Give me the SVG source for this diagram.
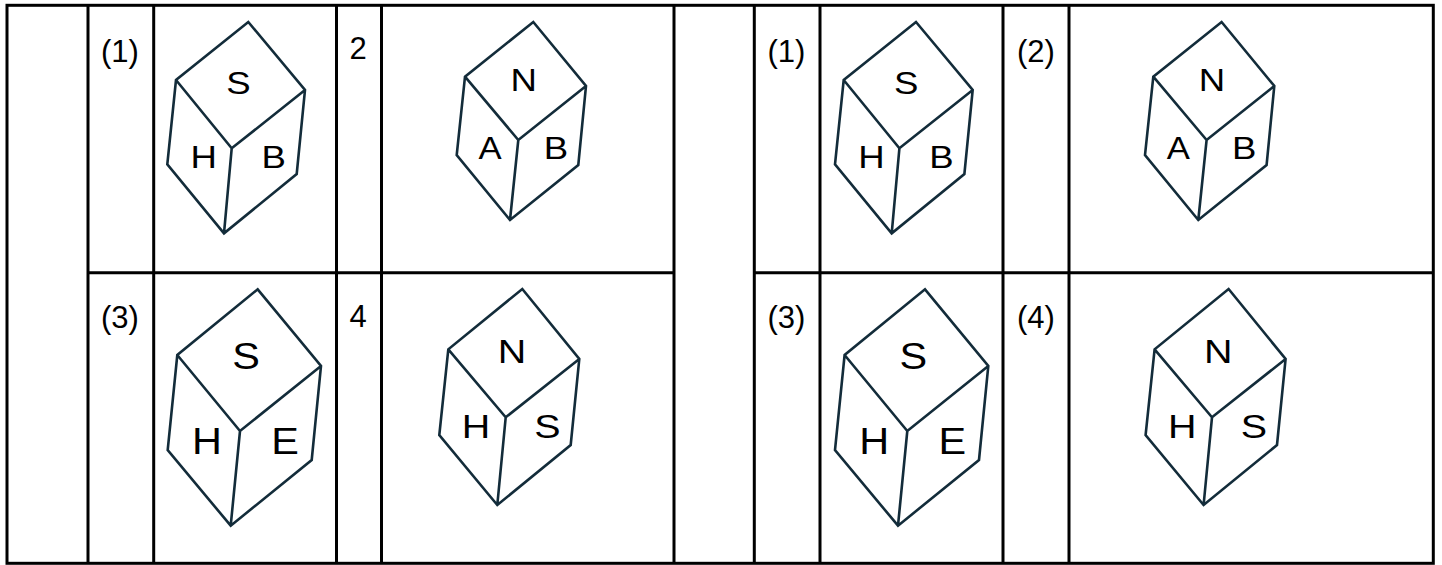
<svg xmlns="http://www.w3.org/2000/svg" width="1442" height="565" viewBox="0 0 1442 565">
<style>
.grid{fill:none;stroke:#000;stroke-width:3}
.cube{fill:none;stroke:#132c3a;stroke-width:2.6;stroke-linejoin:miter}
.num{font-family:"Liberation Sans",Arial,sans-serif;font-size:31px;fill:#000}
.f1{font-family:"Liberation Sans",Arial,sans-serif;font-size:31px;fill:#000;text-anchor:middle}
.f2{font-family:"Liberation Sans",Arial,sans-serif;font-size:37px;fill:#000;text-anchor:middle}
.f3{font-family:"Liberation Sans",Arial,sans-serif;font-size:34px;fill:#000;text-anchor:middle}
</style>
<rect width="1442" height="565" fill="#fff"/>
<g id="table">
<rect class="grid" x="7" y="5.3" width="1426.3" height="558"/>
<path class="grid" d="M88 5.3V563.3M153.7 5.3V563.3M336.5 5.3V563.3M381.5 5.3V563.3M674 5.3V563.3M754.3 5.3V563.3M820 5.3V563.3M1003 5.3V563.3M1069 5.3V563.3M88 272.7H674M754.3 272.7H1433.3"/>
</g>
<g id="labels">
<text class="num" x="101" y="61.5">(1)</text>
<text class="num" x="349.5" y="59">2</text>
<text class="num" x="101" y="328">(3)</text>
<text class="num" x="349.5" y="327">4</text>
<text class="num" x="767.5" y="61.5">(1)</text>
<text class="num" x="1017" y="61.5">(2)</text>
<text class="num" x="767.5" y="328">(3)</text>
<text class="num" x="1017" y="328">(4)</text>
</g>
<defs>
<g id="c1"><path class="cube" d="M248.3 22L305 90L296.7 174L224 233.3L167.3 164.3L176 80Z M176 80L231.7 148.3L305 90 M231.7 148.3L224 233.3"/></g>
<g id="c2"><path class="cube" d="M533.3 22L586 86L578.3 165L510 220L456.7 155L465 76.7Z M465 76.7L518.3 140L586 86 M518.3 140L510 220"/></g>
<g id="c3"><path class="cube" d="M257.7 289.3L321 366L311.7 460L230.7 525.7L167.7 450L177.3 355Z M177.3 355L240 431L321 366 M240 431L230.7 525.7"/></g>
<g id="c4"><path class="cube" d="M522.3 289L579.3 359L570.7 445L497.3 505L439.3 435L448.3 349.3Z M448.3 349.3L505.7 417.3L579.3 359 M505.7 417.3L497.3 505"/></g>
</defs>
<g id="cube-left-1">
<use href="#c1"/>
<text class="f1" transform="translate(238.5,94) scale(1.18,1)">S</text>
<text class="f1" transform="translate(203.8,167.7) scale(1.18,1)">H</text>
<text class="f1" transform="translate(273.7,167.7) scale(1.18,1)">B</text>
</g>
<g id="cube-left-2">
<use href="#c2"/>
<text class="f1" transform="translate(523.7,90.7) scale(1.18,1)">N</text>
<text class="f1" transform="translate(490,159) scale(1.12,1)">A</text>
<text class="f1" transform="translate(556,159) scale(1.18,1)">B</text>
</g>
<g id="cube-left-3">
<use href="#c3"/>
<text class="f2" transform="translate(246,369) scale(1.12,1)">S</text>
<text class="f2" transform="translate(207,454) scale(1.12,1)">H</text>
<text class="f2" transform="translate(285,454) scale(1.12,1)">E</text>
</g>
<g id="cube-left-4">
<use href="#c4"/>
<text class="f3" transform="translate(512,362.7) scale(1.16,1)">N</text>
<text class="f3" transform="translate(476,438.3) scale(1.16,1)">H</text>
<text class="f3" transform="translate(547.5,438) scale(1.16,1)">S</text>
</g>
<g id="cube-right-1" transform="translate(667.7,0)">
<use href="#c1"/>
<text class="f1" transform="translate(238.5,94) scale(1.18,1)">S</text>
<text class="f1" transform="translate(203.8,167.7) scale(1.18,1)">H</text>
<text class="f1" transform="translate(273.7,167.7) scale(1.18,1)">B</text>
</g>
<g id="cube-right-2" transform="translate(688.3,0)">
<use href="#c2"/>
<text class="f1" transform="translate(523.7,90.7) scale(1.18,1)">N</text>
<text class="f1" transform="translate(490,159) scale(1.12,1)">A</text>
<text class="f1" transform="translate(556,159) scale(1.18,1)">B</text>
</g>
<g id="cube-right-3" transform="translate(667.3,0)">
<use href="#c3"/>
<text class="f2" transform="translate(246,369) scale(1.12,1)">S</text>
<text class="f2" transform="translate(207,454) scale(1.12,1)">H</text>
<text class="f2" transform="translate(285,454) scale(1.12,1)">E</text>
</g>
<g id="cube-right-4" transform="translate(706.3,0)">
<use href="#c4"/>
<text class="f3" transform="translate(512,362.7) scale(1.16,1)">N</text>
<text class="f3" transform="translate(476,438.3) scale(1.16,1)">H</text>
<text class="f3" transform="translate(547.5,438) scale(1.16,1)">S</text>
</g>
</svg>
